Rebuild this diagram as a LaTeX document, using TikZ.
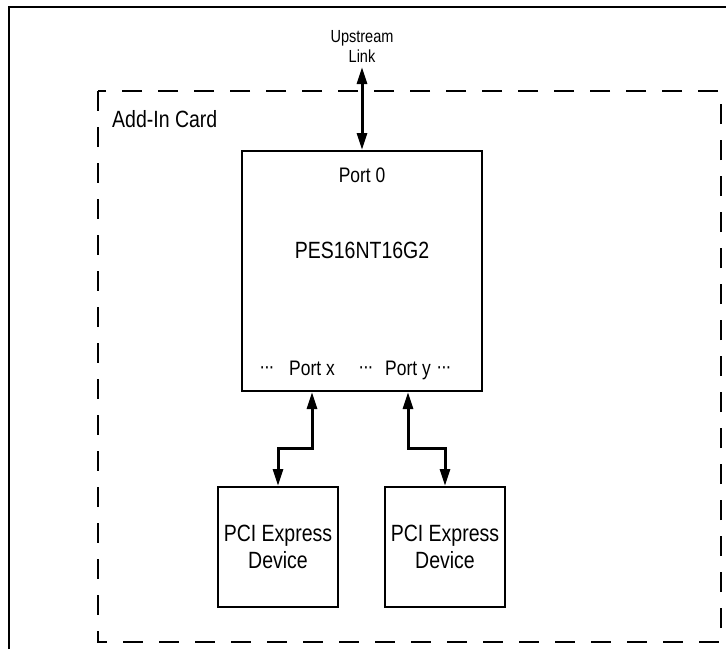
\documentclass[tikz,border=0pt]{standalone}
\usepackage{fontspec}
\setmainfont{Liberation Sans}[FakeStretch=0.83]
\usetikzlibrary{arrows.meta, positioning}
\newcommand{\portdots}{\raisebox{1.5pt}{·\kern-1.2pt·\kern-1.2pt·}}
\tikzset{
    block/.style={rectangle, draw=black, line width=2pt, minimum width=120pt, minimum height=120pt, align=center, inner sep=0pt, font=\fontsize{23.5}{27.5}\selectfont},
    txt/.style={inner sep=0pt, align=center, font=\fontsize{23.5}{28}\selectfont},
    porttxt/.style={inner sep=0pt, anchor=base, font=\fontsize{21}{24}\selectfont},
    smalltxt/.style={inner sep=0pt, align=center, font=\fontsize{17.5}{20}\selectfont},
    link/.style={{Triangle[length=17pt,width=10pt]}-{Triangle[length=17pt,width=10pt]}, line width=3pt}
}
\begin{document}
\begin{tikzpicture}[x=1pt, y=-1pt]
            \useasboundingbox (0,0) rectangle (726,649);
            \draw [line width=2.5pt] (9,649) -- (9,7) -- (726,7);
            \draw [line width=2.5pt, dash pattern=on 20pt off 16pt] (98,91) rectangle (721,642);
            \node (card) [txt, anchor=base west] at (112,127) {Add-In Card};
            \node (upl) [smalltxt] at (362,46) {Upstream\\Link};
            \coordinate (uptip) at (362,67);
            \node (chip) [block, minimum width=240pt, minimum height=240pt] at (362,271) {};
            \node (p0) [porttxt] at (362,182) {Port 0};
            \node (name) [txt, anchor=base] at (362,258) {PES16NT16G2};
            \node (dots1) [porttxt] at (267,375) {\portdots};
            \node (px) [porttxt] at (312,375) {Port x};
            \node (dots2) [porttxt] at (366,375) {\portdots};
            \node (py) [porttxt] at (408,375) {Port y};
            \node (dots3) [porttxt] at (444,375) {\portdots};
            \node (dev1) [block] at (278,547) {PCI Express\\Device};
            \node (dev2) [block] at (445,547) {PCI Express\\Device};

            \draw [link] (uptip) -- (chip.north);
            \draw [link] (chip.south -| px) -- ++(0,56) -| (dev1.north);
            \draw [link] (chip.south -| py) -- ++(0,56) -| (dev2.north);
        \end{tikzpicture}
\end{document}
